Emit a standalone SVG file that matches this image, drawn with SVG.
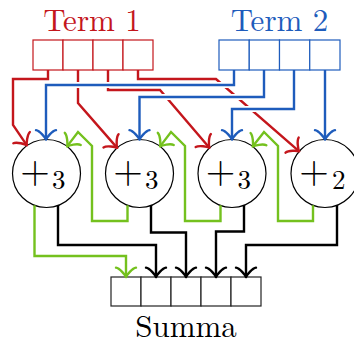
<svg xmlns="http://www.w3.org/2000/svg" width="354" height="341" viewBox="0 0 354 341">
  <style>
    text { font-family: "Latin Modern Roman", "Liberation Serif", serif; }
    .title { font-size: 31px; text-anchor: middle; }
    .op { font-size: 38px; text-anchor: middle; fill: #000; }
    .sub { font-size: 27px; fill: #000; }
    .cell { fill: #fff; stroke-width: 1.2; }
    .adder { fill: #fff; stroke: #000; stroke-width: 1.2; }
    .wire { fill: none; stroke-width: 2.4; stroke-linejoin: miter; }
    .halo { fill: none; stroke: #fff; stroke-width: 6; }
    .red { stroke: #c4161c; }
    .blue { stroke: #1e5cbc; }
    .green { stroke: #74c11e; }
    .black { stroke: #000; }
  </style>
  <defs>
    <marker id="to-red" markerUnits="userSpaceOnUse" viewBox="-15 -15 30 30" markerWidth="30" markerHeight="30" refX="1.9" refY="0" orient="auto">
      <path d="M-7.5,-10 C-6.9,-6.25 0,-0.63 1.9,0 C0,0.63 -6.9,6.25 -7.5,10" fill="none" stroke="#c4161c" stroke-width="2.4" stroke-linecap="round" stroke-linejoin="round"/>
    </marker>
    <marker id="to-blue" markerUnits="userSpaceOnUse" viewBox="-15 -15 30 30" markerWidth="30" markerHeight="30" refX="1.9" refY="0" orient="auto">
      <path d="M-7.5,-10 C-6.9,-6.25 0,-0.63 1.9,0 C0,0.63 -6.9,6.25 -7.5,10" fill="none" stroke="#1e5cbc" stroke-width="2.4" stroke-linecap="round" stroke-linejoin="round"/>
    </marker>
    <marker id="to-green" markerUnits="userSpaceOnUse" viewBox="-15 -15 30 30" markerWidth="30" markerHeight="30" refX="1.9" refY="0" orient="auto">
      <path d="M-7.5,-10 C-6.9,-6.25 0,-0.63 1.9,0 C0,0.63 -6.9,6.25 -7.5,10" fill="none" stroke="#74c11e" stroke-width="2.4" stroke-linecap="round" stroke-linejoin="round"/>
    </marker>
    <marker id="to-black" markerUnits="userSpaceOnUse" viewBox="-15 -15 30 30" markerWidth="30" markerHeight="30" refX="1.9" refY="0" orient="auto">
      <path d="M-7.5,-10 C-6.9,-6.25 0,-0.63 1.9,0 C0,0.63 -6.9,6.25 -7.5,10" fill="none" stroke="#000" stroke-width="2.4" stroke-linecap="round" stroke-linejoin="round"/>
    </marker>
  </defs>

  <!-- first operand register -->
  <g id="term1">
    <text class="title" x="92" y="31" fill="#c4161c">Term 1</text>
    <g class="cell" stroke="#c4161c">
      <rect x="33" y="40" width="30" height="30"/>
      <rect x="63" y="40" width="30" height="30"/>
      <rect x="93" y="40" width="30" height="30"/>
      <rect x="123" y="40" width="30" height="30"/>
    </g>
  </g>

  <!-- second operand register -->
  <g id="term2">
    <text class="title" x="279.5" y="31" fill="#1e5cbc">Term 2</text>
    <g class="cell" stroke="#1e5cbc">
      <rect x="219" y="40" width="30.25" height="30"/>
      <rect x="249.25" y="40" width="30.25" height="30"/>
      <rect x="279.5" y="40" width="30.25" height="30"/>
      <rect x="309.75" y="40" width="30.25" height="30"/>
    </g>
  </g>

  <!-- adders -->
  <g id="add1">
    <circle class="adder" cx="46.5" cy="173.5" r="34"/>
    <text class="op" x="35" y="182.5">+</text>
    <text class="sub" x="52" y="189">3</text>
  </g>
  <g id="add2">
    <circle class="adder" cx="139.5" cy="173.5" r="34"/>
    <text class="op" x="128" y="182.5">+</text>
    <text class="sub" x="145" y="189">3</text>
  </g>
  <g id="add3">
    <circle class="adder" cx="232" cy="173.5" r="34"/>
    <text class="op" x="220.5" y="182.5">+</text>
    <text class="sub" x="237.5" y="189">3</text>
  </g>
  <g id="add4">
    <circle class="adder" cx="325" cy="173.5" r="34"/>
    <text class="op" x="314" y="182.5">+</text>
    <text class="sub" x="332" y="189">2</text>
  </g>

  <!-- result register -->
  <g id="summa">
    <g class="cell" stroke="#222">
      <rect x="111" y="277" width="30" height="29"/>
      <rect x="141" y="277" width="30" height="29"/>
      <rect x="171" y="277" width="30" height="29"/>
      <rect x="201" y="277" width="30" height="29"/>
      <rect x="231" y="277" width="30" height="29"/>
    </g>
    <text class="title" x="186" y="337" fill="#000">Summa</text>
  </g>

  <!-- connectors -->
  <g id="connectors">
    <!-- bits of Term 1 -->
    <path class="wire red" d="M48,70 V79 H13 V125 L26.9,145.4" marker-end="url(#to-red)"/>
    <path class="wire red" d="M78,70 V103 L117.2,147.9" marker-end="url(#to-red)"/>
    <path class="wire red" d="M108,70 V90 H160 L209.4,147.7" marker-end="url(#to-red)"/>
    <path class="wire red" d="M138,70 V79 H216 L299.2,151.3" marker-end="url(#to-red)"/>

    <!-- white gaps where Term 2 wires pass over -->
    <path class="halo" d="M234,85 H46"/>
    <path class="halo" d="M264,97 H139.5"/>
    <path class="halo" d="M294,109 H232"/>

    <!-- bits of Term 2 -->
    <path class="wire blue" d="M234,70 V85 H46 V139.5" marker-end="url(#to-blue)"/>
    <path class="wire blue" d="M264,70 V97 H139.5 V139.5" marker-end="url(#to-blue)"/>
    <path class="wire blue" d="M294,70 V109 H232 V139.5" marker-end="url(#to-blue)"/>
    <path class="wire blue" d="M325,70 V139.5" marker-end="url(#to-blue)"/>

    <!-- carries -->
    <path class="wire green" d="M127.5,205.3 V221 H92 V146 L78,132 L67.1,146.4" marker-end="url(#to-green)"/>
    <path class="wire green" d="M220.5,205.3 V221 H185 V146 L171,132 L160.1,146.4" marker-end="url(#to-green)"/>
    <path class="wire green" d="M313,205.3 V221 H278 V146 L264,132 L252.7,146.6" marker-end="url(#to-green)"/>
    <path class="wire green" d="M34.5,205.3 V256 H126 V277" marker-end="url(#to-green)"/>

    <!-- sum bits -->
    <path class="wire black" d="M58,205.3 V245 H156 V277" marker-end="url(#to-black)"/>
    <path class="wire black" d="M151,205.3 V232.5 H186 V277" marker-end="url(#to-black)"/>
    <path class="wire black" d="M244,205.3 V231.5 H216 V277" marker-end="url(#to-black)"/>
    <path class="wire black" d="M337,205.3 V245 H246 V277" marker-end="url(#to-black)"/>
  </g>
</svg>
